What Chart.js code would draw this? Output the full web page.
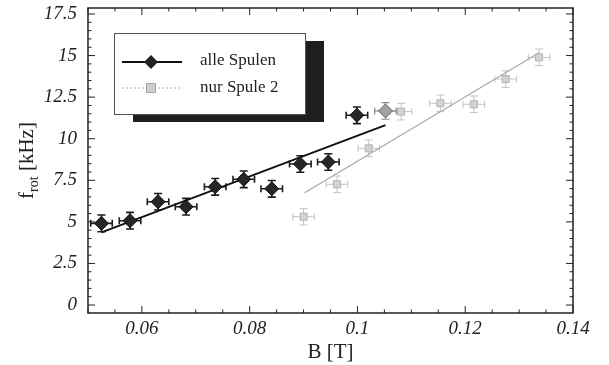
<!DOCTYPE html>
<html>
<head>
<meta charset="utf-8">
<script src="https://cdn.jsdelivr.net/npm/chart.js@4"></script>
<style>
	html, body { margin: 0; padding: 0; background: #fff; }
	#wrap { width: 609px; height: 365px; }
</style>
</head>
<body>
<div id="wrap"><canvas id="chart" width="609" height="365"></canvas></div>
<script>
// values
const allB = [0.0525, 0.0578, 0.0630, 0.0682, 0.0736, 0.0789, 0.0841, 0.0894, 0.0946, 0.0999, 0.1052]
const allF = [4.91, 5.07, 6.21, 5.91, 7.11, 7.56, 6.99, 8.48, 8.60, 11.41, 11.67]
const coil2B = [0.0900, 0.0962, 0.1021, 0.1081, 0.1154, 0.1216, 0.1275, 0.1337]
const coil2F = [5.31, 7.26, 9.42, 11.63, 12.13, 12.07, 13.59, 14.89]
const errB = 0.002
const errF = 0.5
const fitAllB = [0.0525, 0.1052]
const fitAllF = [4.37, 10.82]
const fitCoil2B = [0.0902, 0.1337]
const fitCoil2F = [6.75, 15.17]
const xTicks = [0.06, 0.08, 0.1, 0.12, 0.14]
const yTicks = [0, 2.5, 5, 7.5, 10, 12.5, 15, 17.5]
const legendLabels = ["alle Spulen", "nur Spule 2"]

const serif = "'Liberation Serif', 'Times New Roman', serif"
const toPoints = (xs, ys) => xs.map((x, i) => ({ x, y: ys[i] }))

const errorBars = {
	id: "errorBars",
	beforeDatasetsDraw(chart) {
		const { ctx, chartArea, scales: { x, y } } = chart
		ctx.save()
		ctx.beginPath()
		ctx.rect(chartArea.left, chartArea.top, chartArea.width, chartArea.height)
		ctx.clip()
		const draw = (xs, ys, color, width) => {
			ctx.strokeStyle = color
			ctx.lineWidth = width
			xs.forEach((b, i) => {
				const px = x.getPixelForValue(b), py = y.getPixelForValue(ys[i])
				const x0 = x.getPixelForValue(b - errB), x1 = x.getPixelForValue(b + errB)
				const y0 = y.getPixelForValue(ys[i] - errF), y1 = y.getPixelForValue(ys[i] + errF)
				ctx.beginPath()
				ctx.moveTo(x0, py); ctx.lineTo(x1, py)
				ctx.moveTo(x0, py - 3.5); ctx.lineTo(x0, py + 3.5)
				ctx.moveTo(x1, py - 3.5); ctx.lineTo(x1, py + 3.5)
				ctx.moveTo(px, y0); ctx.lineTo(px, y1)
				ctx.moveTo(px - 4, y0); ctx.lineTo(px + 4, y0)
				ctx.moveTo(px - 4, y1); ctx.lineTo(px + 4, y1)
				ctx.stroke()
			})
		}
		draw(coil2B, coil2F, "#c4c4c4", 1)
		draw(allB.slice(0, -1), allF.slice(0, -1), "#1c1c1c", 1.6)
		draw(allB.slice(-1), allF.slice(-1), "#8a8a8a", 1.2)
		ctx.restore()
	}
}

const frame = {
	id: "frame",
	afterDatasetsDraw(chart) {
		const { ctx, chartArea: a, scales: { x, y } } = chart
		ctx.save()
		ctx.strokeStyle = "#222"
		ctx.lineWidth = 1.5
		ctx.strokeRect(a.left, a.top, a.width, a.height)
		ctx.lineWidth = 1
		ctx.beginPath()
		for (let i = 0; i <= 18; i++) {
			const v = 0.05 + i * 0.005
			const px = x.getPixelForValue(v)
			const len = i % 4 == 2 ? 7 : 3.5
			ctx.moveTo(px, a.bottom); ctx.lineTo(px, a.bottom - len)
			ctx.moveTo(px, a.top); ctx.lineTo(px, a.top + len)
		}
		for (let i = 0; i <= 35; i++) {
			const v = i * 0.5
			const py = y.getPixelForValue(v)
			const len = i % 5 == 0 ? 7 : 3.5
			ctx.moveTo(a.left, py); ctx.lineTo(a.left + len, py)
			ctx.moveTo(a.right, py); ctx.lineTo(a.right - len, py)
		}
		ctx.stroke()

		// y axis title with subscript
		ctx.fillStyle = "#222"
		ctx.textBaseline = "alphabetic"
		const big = "21px " + serif, small = "14px " + serif
		ctx.font = big
		const wF = ctx.measureText("f").width, wRest = ctx.measureText(" [kHz]").width
		ctx.font = small
		const wSub = ctx.measureText("rot").width
		const total = wF + wSub + wRest
		ctx.translate(33, (a.top + a.bottom) / 2)
		ctx.rotate(-Math.PI / 2)
		let cx = -total / 2
		ctx.font = big
		ctx.fillText("f", cx, 0)
		cx += wF
		ctx.font = small
		ctx.fillText("rot", cx, 5)
		cx += wSub
		ctx.font = big
		ctx.fillText(" [kHz]", cx, 0)
		ctx.restore()
	}
}

const boxLegend = {
	id: "boxLegend",
	afterDatasetsDraw(chart) {
		const { ctx, chartArea: a } = chart
		const bx = a.left + 26, by = a.top + 25, bw = 191, bh = 81
		ctx.save()
		ctx.fillStyle = "#1e1e1e"
		ctx.fillRect(bx + 19, by + 8, bw, bh)
		ctx.fillStyle = "#fff"
		ctx.fillRect(bx, by, bw, bh)
		ctx.strokeStyle = "#555"
		ctx.lineWidth = 1
		ctx.strokeRect(bx + 0.5, by + 0.5, bw, bh)

		const rows = [by + 29, by + 55]
		// alle Spulen
		ctx.strokeStyle = "#111"
		ctx.lineWidth = 2
		ctx.beginPath()
		ctx.moveTo(bx + 8, rows[0]); ctx.lineTo(bx + 68, rows[0])
		ctx.stroke()
		ctx.fillStyle = "#222"
		ctx.beginPath()
		ctx.moveTo(bx + 37, rows[0] - 7); ctx.lineTo(bx + 44, rows[0])
		ctx.lineTo(bx + 37, rows[0] + 7); ctx.lineTo(bx + 30, rows[0])
		ctx.closePath()
		ctx.fill()
		// nur Spule 2
		ctx.strokeStyle = "#b0b0b0"
		ctx.lineWidth = 1
		ctx.setLineDash([2, 2])
		ctx.beginPath()
		ctx.moveTo(bx + 8, rows[1]); ctx.lineTo(bx + 68, rows[1])
		ctx.stroke()
		ctx.setLineDash([])
		ctx.fillStyle = "#cfcfcf"
		ctx.fillRect(bx + 32, rows[1] - 5, 10, 10)
		ctx.strokeStyle = "#a8a8a8"
		ctx.strokeRect(bx + 32.5, rows[1] - 4.5, 9, 9)

		ctx.fillStyle = "#222"
		ctx.font = "17px " + serif
		ctx.textBaseline = "middle"
		ctx.fillText(legendLabels[0], bx + 86, rows[0] - 1)
		ctx.fillText(legendLabels[1], bx + 86, rows[1])
		ctx.restore()
	}
}

const tickFont = { family: serif, style: "italic", size: 19 }

new Chart(document.getElementById("chart"), {
	type: "scatter",
	data: {
		datasets: [{
			type: "line",
			data: toPoints(fitAllB, fitAllF),
			borderColor: "#111",
			borderWidth: 2,
			pointRadius: 0,
			order: 3
		}, {
			type: "line",
			data: toPoints(fitCoil2B, fitCoil2F),
			borderColor: "#a8a8a8",
			borderWidth: 1.2,
			pointRadius: 0,
			order: 2
		}, {
			label: legendLabels[1],
			data: toPoints(coil2B, coil2F),
			pointStyle: "rect",
			pointRadius: 5,
			backgroundColor: "#d2d2d2",
			borderColor: "#b4b4b4",
			borderWidth: 1,
			order: 1
		}, {
			label: legendLabels[0],
			data: toPoints(allB, allF),
			pointStyle: "rectRot",
			pointRadius: 7,
			backgroundColor: allB.map((_, i) => i == allB.length - 1 ? "#a0a0a0" : "#262626"),
			borderColor: allB.map((_, i) => i == allB.length - 1 ? "#666" : "#111"),
			borderWidth: 1,
			order: 0
		}]
	},
	options: {
		responsive: false,
		animation: false,
		devicePixelRatio: 1,
		layout: { padding: { left: 0, top: 8, right: 36, bottom: 0 } },
		plugins: {
			legend: { display: false },
			tooltip: { enabled: false }
		},
		scales: {
			x: {
				type: "linear",
				min: 0.05,
				max: 0.14,
				afterBuildTicks: s => { s.ticks = xTicks.map(v => ({ value: v })) },
				afterFit: s => { s.height = 52; s.paddingLeft = 0; s.paddingRight = 0 },
				grid: { display: false, drawTicks: false },
				border: { display: false },
				ticks: { font: tickFont, color: "#222", padding: 5, maxRotation: 0, callback: v => String(v) },
				title: { display: true, text: "B [T]", font: { family: serif, size: 21 }, color: "#222", padding: { top: 0, bottom: 0 } }
			},
			y: {
				type: "linear",
				min: -0.48,
				max: 17.86,
				afterBuildTicks: s => { s.ticks = yTicks.map(v => ({ value: v })) },
				afterFit: s => { s.width = 88; s.paddingTop = 0; s.paddingBottom = 0 },
				grid: { display: false, drawTicks: false },
				border: { display: false },
				ticks: { font: tickFont, color: "#222", padding: 11, callback: v => String(v) }
			}
		}
	},
	plugins: [errorBars, frame, boxLegend]
})
</script>
</body>
</html>
